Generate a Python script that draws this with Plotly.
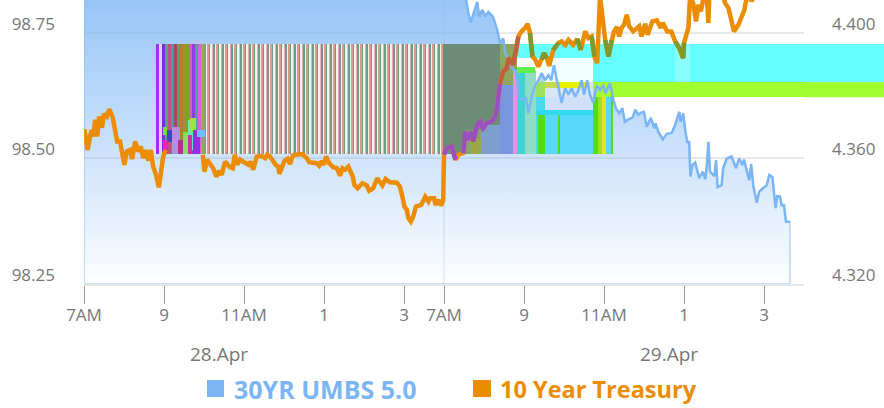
import plotly.graph_objects as go

# ---- x positions are session hours after 7AM on 28.Apr (the 29.Apr session starts at 9) ----
tick_vals = [0, 2, 4, 6, 8, 9, 11, 13, 15, 17]
tick_text = ["7AM", "9", "11AM", "1", "3", "7AM", "9", "11AM", "1", "3"]
price_ticks = [98.25, 98.50, 98.75]
yield_ticks = [4.320, 4.360, 4.400]
price_range = [98.25, 98.8157]
yield_range = [4.32, 4.4105]

blue_t = [0, 3, 6, 9.5, 9.55, 9.61, 9.67, 9.73, 9.83, 9.88, 9.96, 10.03, 10.11, 10.22, 10.32, 10.40, 10.48, 10.53, 10.65, 10.75, 10.82, 10.86, 10.94, 11.05, 11.11, 11.19, 11.28, 11.36, 11.44, 11.53, 11.61, 11.68, 11.75, 11.82, 11.90, 11.94, 12.03, 12.11, 12.19, 12.28, 12.36, 12.44, 12.50, 12.58, 12.65, 12.73, 12.82, 12.90, 12.98, 13.04, 13.15, 13.23, 13.30, 13.38, 13.46, 13.52, 13.61, 13.72, 13.78, 13.86, 13.92, 14.00, 14.07, 14.17, 14.26, 14.29, 14.36, 14.47, 14.57, 14.69, 14.78, 14.88, 14.92, 14.98, 15.03, 15.08, 15.13, 15.16, 15.21, 15.28, 15.38, 15.47, 15.53, 15.57, 15.61, 15.65, 15.76, 15.80, 15.84, 15.94, 15.98, 16.07, 16.19, 16.30, 16.38, 16.46, 16.50, 16.58, 16.63, 16.68, 16.73, 16.82, 16.88, 17.07, 17.13, 17.21, 17.25, 17.29, 17.33, 17.40, 17.44, 17.50, 17.55, 17.65]
blue_y = [98.85, 98.86, 98.84, 98.83, 98.818, 98.789, 98.771, 98.786, 98.812, 98.783, 98.796, 98.783, 98.792, 98.783, 98.759, 98.730, 98.739, 98.710, 98.686, 98.676, 98.670, 98.623, 98.617, 98.620, 98.590, 98.623, 98.646, 98.656, 98.670, 98.656, 98.666, 98.656, 98.686, 98.656, 98.623, 98.611, 98.640, 98.627, 98.640, 98.623, 98.636, 98.656, 98.627, 98.656, 98.627, 98.611, 98.646, 98.636, 98.646, 98.630, 98.650, 98.618, 98.600, 98.590, 98.600, 98.573, 98.578, 98.582, 98.597, 98.587, 98.591, 98.593, 98.563, 98.581, 98.560, 98.570, 98.553, 98.538, 98.549, 98.551, 98.567, 98.593, 98.573, 98.590, 98.557, 98.533, 98.533, 98.464, 98.487, 98.492, 98.461, 98.474, 98.459, 98.484, 98.533, 98.474, 98.465, 98.497, 98.443, 98.447, 98.481, 98.500, 98.504, 98.481, 98.500, 98.487, 98.498, 98.471, 98.457, 98.489, 98.447, 98.412, 98.434, 98.447, 98.467, 98.463, 98.424, 98.401, 98.425, 98.424, 98.407, 98.407, 98.374, 98.374]

orange_t = [0.01, 0.04, 0.09, 0.15, 0.19, 0.23, 0.28, 0.33, 0.38, 0.45, 0.50, 0.57, 0.63, 0.72, 0.78, 0.83, 0.90, 0.96, 1.01, 1.07, 1.15, 1.20, 1.28, 1.36, 1.42, 1.48, 1.54, 1.61, 1.67, 1.73, 1.80, 1.87, 1.93, 1.98, 2.04, 2.5, 2.97, 3.01, 3.08, 3.17, 3.23, 3.31, 3.38, 3.44, 3.53, 3.63, 3.72, 3.77, 3.83, 3.90, 4.03, 4.11, 4.17, 4.23, 4.32, 4.44, 4.53, 4.58, 4.65, 4.73, 4.79, 4.86, 4.88, 4.94, 5.01, 5.09, 5.15, 5.22, 5.28, 5.46, 5.57, 5.63, 5.73, 5.82, 5.88, 5.94, 6.00, 6.05, 6.13, 6.23, 6.32, 6.40, 6.46, 6.53, 6.61, 6.67, 6.72, 6.76, 6.84, 6.96, 7.07, 7.13, 7.23, 7.33, 7.46, 7.54, 7.65, 7.82, 7.90, 7.96, 8.01, 8.07, 8.11, 8.17, 8.23, 8.30, 8.43, 8.53, 8.61, 8.65, 8.75, 8.79, 8.86, 8.93, 8.98, 9.00, 9.07, 9.19, 9.29, 9.36, 9.48, 9.53, 9.58, 9.69, 9.73, 9.83, 9.90, 9.98, 10.07, 10.19, 10.28, 10.33, 10.40, 10.48, 10.57, 10.61, 10.73, 10.80, 10.86, 10.94, 11.03, 11.09, 11.15, 11.21, 11.28, 11.36, 11.44, 11.50, 11.57, 11.63, 11.73, 11.86, 11.94, 12.03, 12.11, 12.23, 12.33, 12.42, 12.53, 12.61, 12.69, 12.76, 12.83, 12.90, 12.96, 13.03, 13.11, 13.19, 13.25, 13.32, 13.38, 13.44, 13.50, 13.57, 13.63, 13.73, 13.82, 13.88, 13.94, 14.03, 14.09, 14.21, 14.32, 14.42, 14.47, 14.58, 14.68, 14.78, 14.88, 14.98, 15.00, 15.07, 15.11, 15.15, 15.23, 15.30, 15.36, 15.42, 15.48, 15.53, 15.57, 15.61, 15.63, 15.98, 16.03, 16.11, 16.17, 16.25, 16.36, 16.44, 16.51, 16.55, 16.59, 16.65, 16.69, 16.75]
orange_y = [4.3693, 4.3666, 4.3627, 4.3670, 4.3691, 4.3670, 4.3723, 4.3670, 4.3734, 4.3698, 4.3742, 4.3734, 4.3757, 4.3729, 4.3691, 4.3654, 4.3654, 4.3601, 4.3580, 4.3622, 4.3627, 4.3598, 4.3654, 4.3622, 4.3638, 4.3601, 4.3627, 4.3593, 4.3627, 4.3574, 4.3548, 4.3508, 4.3558, 4.3606, 4.3627, None, 4.3612, 4.3558, 4.3596, 4.3580, 4.3569, 4.3542, 4.3561, 4.3548, 4.3590, 4.3574, 4.3569, 4.3612, 4.3580, 4.3596, 4.3587, 4.3580, 4.3590, 4.3564, 4.3606, 4.3608, 4.3601, 4.3612, 4.3606, 4.3590, 4.3580, 4.3574, 4.3551, 4.3569, 4.3592, 4.3599, 4.3582, 4.3609, 4.3612, 4.3614, 4.3601, 4.3588, 4.3585, 4.3585, 4.3577, 4.3592, 4.3580, 4.3606, 4.3585, 4.3572, 4.3569, 4.3545, 4.3569, 4.3564, 4.3574, 4.3553, 4.3542, 4.3516, 4.3505, 4.3521, 4.3514, 4.3497, 4.3505, 4.3537, 4.3514, 4.3535, 4.3524, 4.3523, 4.3510, 4.3478, 4.3447, 4.3436, 4.3410, 4.3399, 4.3415, 4.3447, 4.3452, 4.3478, 4.3463, 4.3473, 4.3473, 4.3452, 4.3468, 4.3450, 4.3468, 4.3612, 4.3633, 4.3638, 4.3596, 4.3612, 4.3617, 4.3686, 4.3659, 4.3686, 4.3654, 4.3707, 4.3718, 4.3697, 4.3713, 4.3718, 4.3734, 4.3766, 4.3840, 4.3877, 4.3888, 4.3920, 4.3899, 4.3941, 4.3989, 4.4005, 4.4016, 4.4029, 4.4000, 4.3925, 4.3915, 4.3893, 4.3915, 4.3936, 4.3920, 4.3895, 4.3946, 4.3968, 4.3973, 4.3962, 4.3978, 4.3962, 4.3981, 4.3946, 4.4005, 4.3984, 4.3989, 4.3925, 4.3904, 4.4116, 4.4053, 4.3978, 4.3925, 4.3978, 4.4005, 4.4019, 4.3989, 4.4016, 4.4026, 4.4058, 4.4021, 4.4005, 4.4016, 4.4021, 4.3989, 4.4029, 4.3994, 4.4037, 4.4040, 4.4016, 4.4032, 4.4005, 4.4005, 4.3973, 4.3952, 4.3920, 4.3968, 4.4000, 4.4016, 4.4116, 4.4095, 4.4037, 4.4090, 4.4069, 4.4106, 4.4116, 4.4116, 4.4032, 4.4116, 4.4116, 4.4095, 4.4080, 4.4048, 4.4005, 4.4026, 4.4048, 4.4074, 4.4101, 4.4116, 4.4116, 4.4101, 4.4116]

# ---- colour-block overlay that sits across the chart (hours / price units) ----
glitch_left = [3.025, 1.975, 2.075, 1.975, 2.2, 2.35, 2.475, 2.6, 2.65, 2.725, 2.825, 2.6,
               8.975, 9.525, 9.65, 9.925, 10.40, 10.40, 10.725, 10.825, 11.025, 11.30, 11.35,
               11.525, 11.85, 11.525, 11.30, 12.725, 12.725, 12.85, 12.95, 13.05, 13.175,
               10.825, 10.825, 11.525, 12.725, 12.725, 14.775, 11.30, 11.525, 11.525, 11.9]
glitch_right = [8.975, 2.075, 2.2, 2.1, 2.4, 2.475, 2.65, 2.8, 2.8, 2.9, 3.025, 2.7,
                10.40, 10.15, 9.925, 10.40, 10.725, 10.825, 10.825, 11.025, 11.30, 11.525, 11.525,
                12.725, 11.90, 12.725, 12.725, 13.225, 12.85, 12.95, 13.05, 13.175, 13.225,
                13.225, 11.275, 12.725, 18, 18, 15.15, 11.525, 12.725, 11.9, 12.65]
glitch_low = [98.509, 98.547, 98.533, 98.509, 98.509, 98.509, 98.509, 98.517, 98.553, 98.509, 98.543, 98.509,
              98.509, 98.509, 98.509, 98.509, 98.509, 98.646, 98.509, 98.509, 98.509, 98.509, 98.509,
              98.509, 98.509, 98.587, 98.587, 98.509, 98.509, 98.509, 98.509, 98.509, 98.509,
              98.700, 98.670, 98.652, 98.652, 98.622, 98.652, 98.622, 98.622, 98.640, 98.640]
glitch_high = [98.728, 98.563, 98.557, 98.537, 98.563, 98.537, 98.553, 98.577, 98.581, 98.557, 98.557, 98.547,
               98.728, 98.557, 98.541, 98.567, 98.646, 98.728, 98.676, 98.676, 98.676, 98.622, 98.593,
               98.587, 98.587, 98.622, 98.597, 98.622, 98.622, 98.622, 98.622, 98.622, 98.622,
               98.728, 98.682, 98.700, 98.728, 98.652, 98.728, 98.652, 98.652, 98.652, 98.652]
glitch_color = ["#6f9a85", "#70e040", "#3050c0", "#f020b0", "#b090e0", "#b03090", "#80e060", "#60e8d0", "#a0e040", "#9030e0", "#70c0ff", "#d030a0",
                "#6d8c75", "#84a274", "#9aa84a", "#7f9fd0", "#7a96e0", "#8ca860", "#e590e0", "#3ed4d4", "#90dcc4", "#4cd8f0", "#56d81e",
                "#58d8fa", "#56d81e", "#cfe0f8", "#30d8f0", "#4cd8e0", "#56d81e", "#a0e020", "#e0e820", "#58d8f0", "#56d81e",
                "#66ffff", "#60f050", "#f0ffff", "#66ffff", "#a2ff2e", "#88ffff", "#a0e060", "#d8e4f8", "#c8d850", "#e8f000"]

dense_t = [1.80, 1.875, 1.95, 2.025, 2.10, 2.175, 2.25, 2.325, 2.40, 2.475, 2.55, 2.625, 2.70, 2.775, 2.85, 2.925, 3.0]
dense_color = ["#9b30ff", "#e0d0f8", "#7a2ee0", "#6a9a85", "#c05080", "#40a0a0", "#b04060", "#6f9a60", "#b08030",
               "#a09030", "#80a020", "#d060c0", "#9040e0", "#50a0a0", "#e060d0", "#a0a060", "#7f9f80"]

stripe_t = [3.05, 3.16, 3.28, 3.39, 3.50, 3.61, 3.73, 3.84, 3.95, 4.06, 4.18, 4.29, 4.40, 4.51, 4.63, 4.74, 4.85, 4.96, 5.08, 5.19, 5.30, 5.41, 5.53, 5.64, 5.75, 5.86, 5.98, 6.09, 6.20, 6.31, 6.43, 6.54, 6.65, 6.76, 6.88, 6.99, 7.10, 7.21, 7.33, 7.44, 7.55, 7.66, 7.78, 7.89, 8.00, 8.11, 8.23, 8.34, 8.45, 8.56, 8.68, 8.79, 8.90]
accent_color = ["#e09a88", "#eeb0d8", "#e09a88", "#cfb8a8", "#e09a88", "#e6a8c4"]

BLUE = "#7cb5f5"
ORANGE = "#ec8c00"
GREY = "#777777"
FONT = "Open Sans, sans-serif"
BAND_TOP, BAND_MID = 4.3966, 4.3921
PLOT_LEFT, PLOT_W, PLOT_H = 84, 720, 284
ORANGE_W = 4.5


def px(v):
    return (v - PLOT_LEFT) / PLOT_W


def py(v):
    return (PLOT_H - v) / PLOT_H


fig = go.Figure()

# layer 1: gradient area (closed outline gives the pale edges)
fig.add_trace(go.Scatter(
    x=[0] + blue_t + [blue_t[-1], 0], y=[98.25] + blue_y + [98.25, 98.25],
    mode="lines", fill="toself", showlegend=False, hoverinfo="skip",
    line=dict(color="rgba(124,181,245,0.55)", width=1.5),
    fillgradient=dict(type="vertical", colorscale=[[0, "rgba(124,181,245,0.02)"], [1, "rgba(124,181,245,0.85)"]]),
    yaxis="y"))

# layer 2: colour blocks
def bars(lefts, rights, lows, highs, colors):
    return go.Bar(x=[(a + b) / 2 for a, b in zip(lefts, rights)], width=[b - a for a, b in zip(lefts, rights)],
                  base=lows, y=[h - l for l, h in zip(lows, highs)], marker=dict(color=colors, line=dict(width=0)),
                  showlegend=False, hoverinfo="skip", yaxis="y2")


def full(n, v):
    return [v] * n


order = [0] + list(range(12, len(glitch_left)))
fig.add_trace(bars([glitch_left[i] for i in order], [glitch_right[i] for i in order],
                   [glitch_low[i] for i in order], [glitch_high[i] for i in order], [glitch_color[i] for i in order]))
fig.add_trace(bars(dense_t, [t + 0.075 for t in dense_t], full(len(dense_t), 98.509), full(len(dense_t), 98.728), dense_color))
fig.add_trace(bars(stripe_t, [t + 0.04 for t in stripe_t], full(len(stripe_t), 98.509), full(len(stripe_t), 98.728), full(len(stripe_t), "#f3f3ef")))
fig.add_trace(bars([t + 0.04 for t in stripe_t], [t + 0.06 for t in stripe_t], full(len(stripe_t), 98.509), full(len(stripe_t), 98.728),
                   [accent_color[i % len(accent_color)] for i in range(len(stripe_t))]))
fig.add_trace(bars(glitch_left[1:12], glitch_right[1:12], glitch_low[1:12], glitch_high[1:12], glitch_color[1:12]))

# layer 3: price line
fig.add_trace(go.Scatter(x=blue_t, y=blue_y, mode="lines", name="30YR UMBS 5.0", showlegend=False,
                         line=dict(color=BLUE, width=2.5), yaxis="y3"))

# layer 4: yield line, tinted where it passes through the colour blocks
fig.add_trace(go.Scatter(x=orange_t, y=orange_y, mode="lines", name="10 Year Treasury", showlegend=False,
                         line=dict(color=ORANGE, width=ORANGE_W), yaxis="y4"))


def tint(t, y):
    if 9.0 <= t < 10.4 and y >= 4.3615:
        return "#9a4fc0"
    if 10.4 <= t < 10.9 and y < BAND_TOP:
        return "#c0603f"
    if t >= 10.9 and BAND_MID < y < BAND_TOP:
        return "#7c9a30"
    return None


runs = {}
for i in range(len(orange_t) - 1):
    if orange_y[i] is None or orange_y[i + 1] is None:
        continue
    c = tint((orange_t[i] + orange_t[i + 1]) / 2, (orange_y[i] + orange_y[i + 1]) / 2)
    if c is None:
        continue
    xs, ys = runs.setdefault(c, ([], []))
    if xs and xs[-1] == orange_t[i]:
        xs.append(orange_t[i + 1]); ys.append(orange_y[i + 1])
    else:
        xs += [None, orange_t[i], orange_t[i + 1]]; ys += [None, orange_y[i], orange_y[i + 1]]
for c, (xs, ys) in runs.items():
    fig.add_trace(go.Scatter(x=xs, y=ys, mode="lines", showlegend=False, hoverinfo="skip",
                             line=dict(color=c, width=ORANGE_W), yaxis="y4"))

tick_font = dict(family=FONT, size=17, color=GREY)
date_font = dict(family=FONT, size=19, color=GREY)
hidden = dict(visible=False, overlaying="y", range=price_range)

shapes = [
    dict(type="line", xref="x", yref="paper", x0=9, x1=9, y0=0, y1=1, layer="below",
         line=dict(color="rgba(190,200,215,0.55)", width=1)),
    # the colour bands run on past the plot to the page edge
    dict(type="rect", xref="paper", yref="y", x0=1, x1=1.12, y0=98.652, y1=98.728, layer="above",
         fillcolor="#66ffff", line=dict(width=0)),
    dict(type="rect", xref="paper", yref="y", x0=1, x1=1.12, y0=98.622, y1=98.652, layer="above",
         fillcolor="#a2ff2e", line=dict(width=0)),
    # legend swatches
    dict(type="rect", xref="paper", yref="paper", x0=px(207), x1=px(224), y0=py(397), y1=py(380),
         fillcolor=BLUE, line=dict(width=0)),
    dict(type="rect", xref="paper", yref="paper", x0=px(473), x1=px(491), y0=py(397), y1=py(380),
         fillcolor=ORANGE, line=dict(width=0)),
]

annotations = [
    dict(text="28.Apr", x=3.375, xref="x", y=py(354), yref="paper", yanchor="middle", showarrow=False, font=date_font),
    dict(text="29.Apr", x=14.625, xref="x", y=py(354), yref="paper", yanchor="middle", showarrow=False, font=date_font),
    dict(text="<b>30YR UMBS 5.0</b>", x=px(232), xref="paper", xanchor="left", y=py(389), yref="paper", yanchor="middle",
         showarrow=False, font=dict(family=FONT, size=25, color=BLUE)),
    dict(text="<b>10 Year Treasury</b>", x=px(498), xref="paper", xanchor="left", y=py(389), yref="paper", yanchor="middle",
         showarrow=False, font=dict(family=FONT, size=23.5, color=ORANGE)),
]

fig.update_layout(
    width=884, height=408, margin=dict(l=84, r=80, t=0, b=124), autosize=False,
    paper_bgcolor="white", plot_bgcolor="white", barmode="overlay", bargap=0,
    showlegend=False, shapes=shapes, annotations=annotations, font=dict(family=FONT),
    xaxis=dict(range=[0, 18], tickmode="array", tickvals=tick_vals, ticktext=tick_text, ticks="outside",
               ticklen=18, tickcolor="#999999", tickwidth=1, tickfont=tick_font, showgrid=False,
               showline=True, linecolor="#e6e6e6", linewidth=2, zeroline=False, ticklabelstandoff=-3),
    yaxis=dict(range=price_range, tickmode="array", tickvals=price_ticks, tickformat=".2f", tickfont=tick_font,
               gridcolor="#e8e8e8", gridwidth=2, zeroline=False, ticks="", ticklabelstandoff=28, ticklabelshift=-9),
    yaxis2=hidden,
    yaxis3=hidden,
    yaxis4=dict(range=yield_range, overlaying="y", side="right", tickmode="array", tickvals=yield_ticks,
                tickformat=".3f", tickfont=tick_font, showgrid=False, zeroline=False, ticks="",
                ticklabelstandoff=27, ticklabelshift=-9),
)

fig.write_html("out.html", config={"displayModeBar": False},
               post_script="document.body.style.margin='0';document.body.style.overflow='hidden';")
